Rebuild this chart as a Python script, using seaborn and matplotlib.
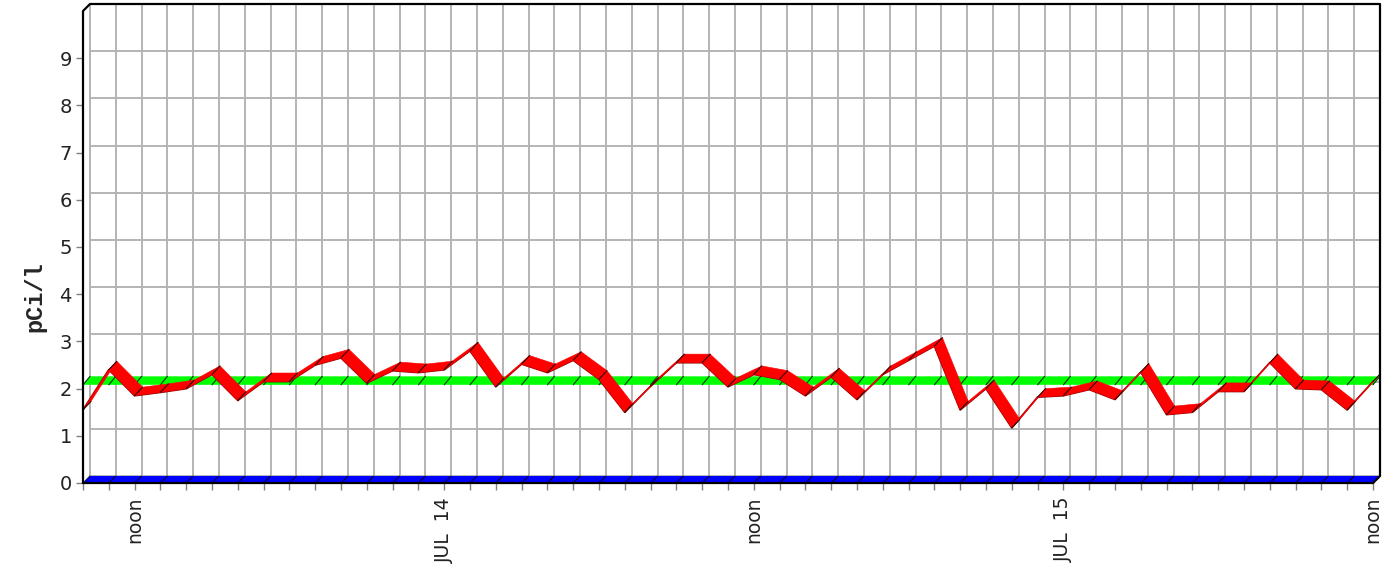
import numpy as np
import pandas as pd
import matplotlib
matplotlib.use("Agg")
import matplotlib.pyplot as plt
import seaborn as sns

# hourly radon readings, JUL 13 10:00 -> JUL 15 noon
radon = [1.55, 2.40, 1.85, 1.92, 2.00, 2.30, 1.75, 2.15, 2.15, 2.50,
         2.65, 2.12, 2.38, 2.34, 2.40, 2.80, 2.04, 2.52, 2.34, 2.60,
         2.20, 1.50, 2.05, 2.55, 2.55, 2.04, 2.30, 2.20, 1.85, 2.25,
         1.77, 2.30, 2.60, 2.90, 1.55, 2.00, 1.17, 1.82, 1.85, 1.98,
         1.77, 2.35, 1.45, 1.50, 1.94, 1.94, 2.55, 2.00, 1.98, 1.55,
         2.15]
hours = list(range(len(radon)))
action_level = 2.08
baseline = 0.0

tick_hours = [2, 14, 26, 38, 50]
tick_labels = ["noon", "JUL  14", "noon", "JUL  15", "noon"]
y_ticks = list(range(10))

df = pd.DataFrame({"hour": hours, "pCi": radon})

sns.set_style("white")
plt.rcParams["font.family"] = ["DejaVu Sans"]

W, H = 1396, 579
fig = plt.figure(figsize=(W / 100, H / 100), dpi=100)
ax_w, ax_h = 1297, 479
ax = fig.add_axes([83 / W, (H - 483) / H, ax_w / W, ax_h / H])

# fake 3d depth (pixels)
depth = 7
px_hour = (ax_w - depth) / (hours[-1])
px_unit = (ax_h - depth) / 10
dx = depth / px_hour
dy = depth / px_unit
# series ribbons are drawn a bit deeper
sdx = 8 / px_hour
sdy = 8.5 / px_unit

ax.set_xlim(0, hours[-1] + dx)
ax.set_ylim(0, 10 + dy)

# back wall grid
grid_col = "#b4b4b4"
for h in hours:
    ax.plot([h + dx, h + dx], [dy, 10 + dy], color=grid_col, lw=1.4, zorder=1)
for v in y_ticks:
    ax.plot([dx, hours[-1] + dx], [v + dy, v + dy], color=grid_col, lw=1.4, zorder=1)


def band(level, color, z, top=None):
    top = level + sdy if top is None else top
    ax.fill([hours[0], hours[-1], hours[-1] + dx, hours[0] + dx],
            [level, level, top, top],
            color=color, lw=0, zorder=z)
    for h in hours:
        ax.plot([h, h + dx], [level, top], color="black", lw=0.8,
                alpha=0.8, zorder=z + 0.5)


band(baseline, "#0000ff", 2, top=dy)
band(action_level, "#00ff00", 3)

# red ribbon
sns.lineplot(data=df, x="hour", y="pCi", color="#8b0000", lw=1.3, ax=ax,
             zorder=4)
for i in range(len(radon) - 1):
    h0, h1 = hours[i], hours[i + 1]
    v0, v1 = radon[i], radon[i + 1]
    ax.fill([h0, h1, h1 + sdx, h0 + sdx], [v0, v1, v1 + sdy, v0 + sdy],
            facecolor="#ff0000", edgecolor="#ff0000", lw=0.4, zorder=5)
for h, v in zip(hours, radon):
    ax.plot([h, h + sdx], [v, v + sdy], color="black", lw=0.8, alpha=0.8,
            zorder=6)

# frame
for s in ax.spines.values():
    s.set_visible(False)
fx, fy = depth / ax_w, depth / ax_h
frame = dict(transform=ax.transAxes, color="black", lw=1.6, clip_on=False,
             zorder=7)
ax.plot([0, 0, fx, 1, 1, 1 - fx], [0, 1 - fy, 1, 1, fy, 0], **frame)
ax.plot([0, 1 - fx], [0, 0], **frame)

# ticks
ax.set_xticks(tick_hours, tick_labels, rotation=90)
ax.set_xticks(hours, minor=True)
ax.set_yticks(y_ticks)
ax.tick_params(axis="x", which="both", bottom=True, length=5, width=1,
               color="#808080", pad=5, labelsize=13.5, labelcolor="#222222")
ax.tick_params(axis="y", left=True, length=5, width=1, color="#808080",
               pad=3, labelsize=14, labelcolor="#222222")
ax.set_xlabel("")
ax.set_ylabel("pCi/l", fontfamily="Liberation Mono", fontweight="bold",
              fontsize=17)
ax.yaxis.set_label_coords(-0.028, 0.39)

fig.savefig("out.png", dpi=100)
